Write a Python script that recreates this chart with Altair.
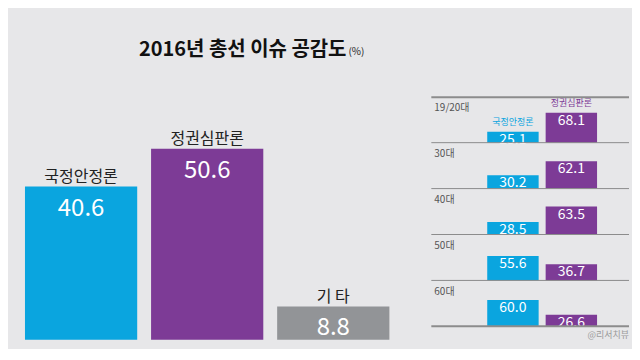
import altair as alt
import pandas as pd

title_text = "2016년 총선 이슈 공감도"
unit_text = "(%)"
categories = ["국정안정론", "정권심판론", "기 타"]
overall = [40.6, 50.6, 8.8]
colors = ["#0aa5df", "#7d3b96", "#929497"]
ages = ["19/20대", "30대", "40대", "50대", "60대"]
series = ["국정안정론", "정권심판론"]
stable = [25.1, 30.2, 28.5, 55.6, 60.0]
judge = [68.1, 62.1, 63.5, 36.7, 26.6]
source = "@리서치뷰"

FONT = "Noto Sans CJK KR"
BG = "#e7e7e9"

# ---------- main chart ----------
main_df = pd.DataFrame({"cat": categories, "value": overall})
main_base = alt.Chart(main_df).encode(
    x=alt.X("cat:N", sort=categories, axis=None,
            scale=alt.Scale(paddingInner=0.11, paddingOuter=0)),
    y=alt.Y("value:Q", axis=None, scale=alt.Scale(domain=[0, 64.3])),
)
main_bars = main_base.mark_bar().encode(
    color=alt.Color("cat:N", scale=alt.Scale(domain=categories, range=colors), legend=None)
)
main_cat = main_base.mark_text(baseline="alphabetic", dy=-5, font=FONT, fontSize=16,
                               color="#222222").encode(text="cat:N")
main_val = main_base.mark_text(baseline="top", dy=10, font=FONT, fontSize=24,
                               color="white").encode(text=alt.Text("value:Q", format=".1f"))
main = alt.layer(main_bars, main_cat, main_val).properties(width=365, height=243)

# ---------- right panel ----------
ROW_H = 45.6
ROW_W = 198
rows = []
for i, age in enumerate(ages):
    df = pd.DataFrame({"age": [age, age], "series": series, "value": [stable[i], judge[i]]})
    b = alt.Chart(df).encode(
        x=alt.X("series:N", sort=series, axis=None,
                scale=alt.Scale(domain=series, range=[56, 166], paddingInner=0.12, paddingOuter=0)),
        y=alt.Y("value:Q", axis=None, scale=alt.Scale(domain=[0, 103.6])),
    )
    col = alt.Color("series:N", scale=alt.Scale(domain=series, range=colors[:2]), legend=None)
    one = pd.DataFrame({"age": [age]})
    layers = [
        b.mark_bar().encode(color=col),
        b.mark_text(baseline="top", dy=1, font=FONT, fontSize=14, color="white").encode(
            text=alt.Text("value:Q", format=".1f")),
        alt.Chart(one).mark_text(align="left", baseline="top", font=FONT, fontSize=10,
                                 color="#555555").encode(
            x=alt.value(3), y=alt.value(6), text="age:N"),
        alt.Chart(one).mark_rule(color="#8c8c8c", strokeWidth=2 if i == len(ages) - 1 else 1).encode(
            x=alt.value(0), x2=alt.value(ROW_W), y=alt.value(ROW_H)),
    ]
    if i == 0:
        layers.append(b.mark_text(baseline="alphabetic", dy=-7, font=FONT, fontSize=9).encode(
            text="series:N", color=col))
        layers.append(alt.Chart(one).mark_rule(color="#8c8c8c", strokeWidth=2).encode(
            x=alt.value(0), x2=alt.value(ROW_W), y=alt.value(0)))
    if i == len(ages) - 1:
        src = pd.DataFrame({"s": [source]})
        layers.append(alt.Chart(src).mark_text(align="right", baseline="top", font=FONT,
                                               fontSize=9, color="#9a9a9a").encode(
            x=alt.value(ROW_W), y=alt.value(ROW_H + 5), text="s:N"))
    rows.append(alt.layer(*layers).properties(width=ROW_W, height=ROW_H))

right = alt.vconcat(*rows, spacing=0, bounds="flush")

# ---------- header ----------
t_df = pd.DataFrame({"t": [title_text]})
u_df = pd.DataFrame({"u": [unit_text]})
header = alt.layer(
    alt.Chart(t_df).mark_text(align="right", baseline="alphabetic", font=FONT, fontSize=20,
                              fontWeight="bold", color="#111111").encode(
        x=alt.value(322), y=alt.value(48), text="t:N"),
    alt.Chart(u_df).mark_text(align="left", baseline="alphabetic", font=FONT, fontSize=10,
                              color="#222222").encode(
        x=alt.value(324), y=alt.value(47), text="u:N"),
).properties(width=605, height=89)

body = alt.hconcat(main, right, spacing=42, bounds="flush")
chart = alt.vconcat(header, body, spacing=0, bounds="flush").properties(
    padding={"left": 17, "top": 0, "right": 2, "bottom": 8},
    background=BG,
).configure_view(stroke=None)

chart.save("out.html", embed_options={"renderer": "svg", "actions": False})
